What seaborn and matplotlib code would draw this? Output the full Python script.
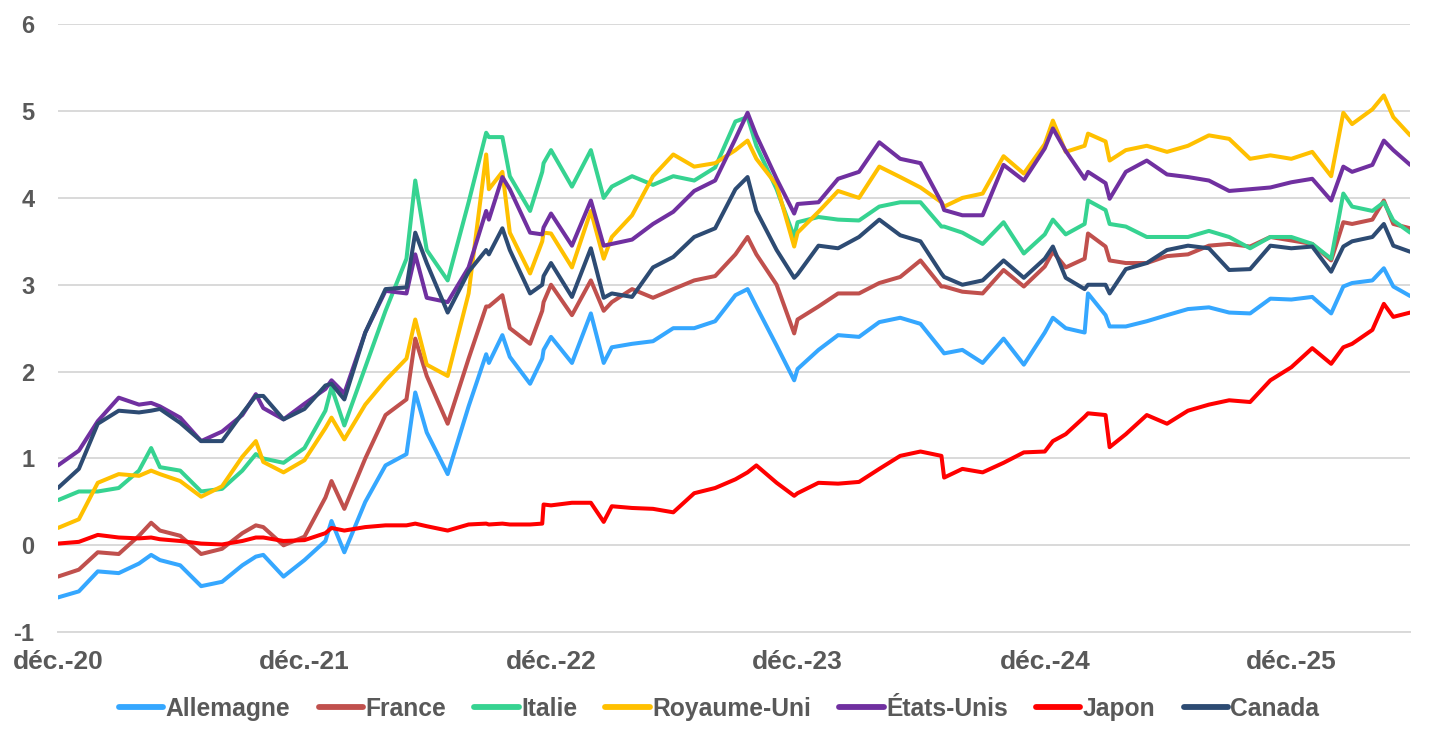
import matplotlib
matplotlib.use("Agg")
import matplotlib.pyplot as plt
import seaborn as sns
import pandas as pd

# 10-year government bond yields (%)
# one value per month start, Jan 2021 -> Jun 2026
months = pd.date_range("2021-01-01", "2026-06-01", freq="MS")

allemagne = [-0.60, -0.53, -0.30, -0.32, -0.21, -0.17, -0.23, -0.47, -0.42, -0.23, -0.11, -0.36,
             -0.17, 0.05, -0.08, 0.50, 0.92, 1.05, 1.30, 0.82, 1.60, 2.10, 2.17, 1.86,
             2.40, 2.10, 2.67, 2.28, 2.32, 2.35, 2.50, 2.50, 2.58, 2.88, 2.75, 2.30,
             2.03, 2.25, 2.42, 2.40, 2.57, 2.62, 2.55, 2.25, 2.25, 2.10, 2.38, 2.08,
             2.45, 2.50, 2.45, 2.65, 2.52, 2.58, 2.65, 2.72, 2.74, 2.68, 2.67, 2.84,
             2.83, 2.86, 2.67, 3.02, 3.05, 2.98]
france = [-0.36, -0.28, -0.08, -0.10, 0.11, 0.17, 0.11, -0.10, -0.04, 0.14, 0.21, 0.00,
          0.10, 0.55, 0.42, 1.00, 1.50, 1.68, 1.95, 1.40, 2.15, 2.75, 2.50, 2.32,
          3.00, 2.65, 3.05, 2.80, 2.95, 2.85, 2.95, 3.05, 3.10, 3.35, 3.35, 3.00,
          2.60, 2.75, 2.90, 2.90, 3.02, 3.09, 3.28, 2.98, 2.92, 2.90, 3.17, 2.98,
          3.21, 3.20, 3.30, 3.44, 3.25, 3.25, 3.33, 3.35, 3.45, 3.47, 3.44, 3.55,
          3.51, 3.47, 3.28, 3.70, 3.75, 3.70]
italie = [0.52, 0.62, 0.62, 0.66, 0.86, 0.90, 0.86, 0.62, 0.65, 0.86, 1.00, 0.95,
          1.12, 1.55, 1.38, 2.05, 2.70, 3.30, 3.40, 3.05, 3.95, 4.70, 4.25, 3.85,
          4.55, 4.13, 4.55, 4.13, 4.25, 4.15, 4.25, 4.20, 4.35, 4.88, 4.60, 4.10,
          3.72, 3.78, 3.75, 3.74, 3.90, 3.95, 3.95, 3.67, 3.60, 3.47, 3.72, 3.36,
          3.58, 3.58, 3.70, 3.86, 3.67, 3.55, 3.55, 3.55, 3.62, 3.55, 3.42, 3.55,
          3.55, 3.47, 3.30, 3.90, 3.85, 3.74]
royaume_uni = [0.20, 0.30, 0.72, 0.82, 0.80, 0.82, 0.74, 0.56, 0.68, 1.02, 0.96, 0.84,
               0.98, 1.35, 1.22, 1.62, 1.90, 2.15, 2.08, 1.95, 2.90, 4.10, 3.60, 3.13,
               3.59, 3.20, 3.85, 3.55, 3.80, 4.25, 4.50, 4.36, 4.40, 4.55, 4.45, 4.15,
               3.60, 3.84, 4.08, 4.00, 4.36, 4.24, 4.12, 3.95, 4.00, 4.05, 4.48, 4.28,
               4.62, 4.53, 4.60, 4.65, 4.55, 4.60, 4.53, 4.60, 4.72, 4.68, 4.45, 4.49,
               4.45, 4.53, 4.25, 4.85, 5.02, 4.93]
etats_unis = [0.92, 1.09, 1.43, 1.70, 1.62, 1.60, 1.47, 1.20, 1.31, 1.50, 1.58, 1.45,
              1.63, 1.80, 1.75, 2.45, 2.93, 2.90, 2.85, 2.80, 3.20, 3.75, 4.10, 3.60,
              3.82, 3.45, 3.97, 3.47, 3.52, 3.70, 3.84, 4.08, 4.20, 4.68, 4.72, 4.22,
              3.93, 3.95, 4.22, 4.30, 4.64, 4.45, 4.40, 3.95, 3.80, 3.80, 4.38, 4.20,
              4.57, 4.54, 4.22, 4.17, 4.30, 4.43, 4.27, 4.24, 4.20, 4.08, 4.10, 4.12,
              4.18, 4.22, 3.97, 4.30, 4.38, 4.55]
japon = [0.02, 0.04, 0.12, 0.09, 0.08, 0.07, 0.05, 0.02, 0.01, 0.05, 0.09, 0.05,
         0.06, 0.14, 0.17, 0.21, 0.23, 0.23, 0.22, 0.17, 0.24, 0.24, 0.24, 0.24,
         0.46, 0.49, 0.49, 0.45, 0.43, 0.42, 0.38, 0.60, 0.66, 0.76, 0.92, 0.72,
         0.60, 0.72, 0.71, 0.73, 0.88, 1.03, 1.08, 1.03, 0.88, 0.84, 0.95, 1.07,
         1.08, 1.28, 1.48, 1.50, 1.28, 1.50, 1.40, 1.55, 1.62, 1.67, 1.65, 1.90,
         2.05, 2.27, 2.09, 2.32, 2.48, 2.63]
canada = [0.66, 0.88, 1.40, 1.55, 1.53, 1.57, 1.41, 1.20, 1.20, 1.52, 1.72, 1.45,
          1.57, 1.84, 1.68, 2.45, 2.95, 2.97, 3.25, 2.68, 3.15, 3.35, 3.40, 2.90,
          3.25, 2.86, 3.42, 2.90, 2.86, 3.20, 3.32, 3.55, 3.65, 4.10, 3.85, 3.40,
          3.12, 3.45, 3.42, 3.55, 3.75, 3.57, 3.50, 3.13, 3.00, 3.05, 3.28, 3.08,
          3.30, 3.08, 2.95, 3.00, 3.18, 3.25, 3.40, 3.45, 3.42, 3.17, 3.18, 3.45,
          3.42, 3.44, 3.15, 3.50, 3.55, 3.45]

# extra points at the main spikes / dips, plus the last observation
event_dates = ["2021-05-19", "2021-10-21", "2022-02-10", "2022-06-14", "2022-09-27", "2022-10-21",
               "2022-12-19", "2022-12-21", "2023-03-20", "2023-10-19", "2023-12-27", "2024-08-05",
               "2025-01-13", "2025-03-06", "2025-04-07", "2026-03-19", "2026-05-18", "2026-06-26"]
allemagne_ev = [-0.11, -0.13, 0.28, 1.76, 2.20, 2.42, 2.15, 2.25, 2.10, 2.95, 1.90, 2.21,
                2.62, 2.90, 2.52, 2.98, 3.19, 2.87]
france_ev = [0.26, 0.23, 0.74, 2.38, 2.75, 2.88, 2.70, 2.80, 2.70, 3.55, 2.44, 2.98,
             3.38, 3.59, 3.28, 3.72, 3.97, 3.65]
italie_ev = [1.12, 1.05, 1.82, 4.20, 4.75, 4.70, 4.30, 4.40, 4.00, 4.93, 3.55, 3.67,
             3.75, 3.97, 3.70, 4.05, 3.95, 3.60]
royaume_uni_ev = [0.86, 1.20, 1.47, 2.60, 4.50, 4.30, 3.50, 3.60, 3.30, 4.66, 3.44, 3.90,
                  4.89, 4.74, 4.43, 4.98, 5.18, 4.72]
etats_unis_ev = [1.64, 1.74, 1.90, 3.35, 3.85, 4.24, 3.58, 3.66, 3.45, 4.98, 3.82, 3.86,
                 4.80, 4.30, 3.99, 4.36, 4.66, 4.38]
japon_ev = [0.09, 0.09, 0.20, 0.25, 0.25, 0.25, 0.25, 0.47, 0.27, 0.84, 0.57, 0.78,
            1.20, 1.52, 1.13, 2.28, 2.78, 2.68]
canada_ev = [1.55, 1.72, 1.86, 3.60, 3.40, 3.65, 3.00, 3.10, 2.85, 4.24, 3.08, 3.09,
             3.44, 3.00, 2.90, 3.44, 3.70, 3.38]

countries = ["Allemagne", "France", "Italie", "Royaume-Uni", "États-Unis", "Japon", "Canada"]
colors = ["#35A7FF", "#C0504D", "#36D391", "#FFC000", "#7030A0", "#FF0000", "#2D4B73"]
year_ticks = ["2021-01-01", "2022-01-01", "2023-01-01", "2024-01-01", "2025-01-01", "2026-01-01"]
year_labels = ["déc.-20", "déc.-21", "déc.-22", "déc.-23", "déc.-24", "déc.-25"]

monthly = [allemagne, france, italie, royaume_uni, etats_unis, japon, canada]
events = [allemagne_ev, france_ev, italie_ev, royaume_uni_ev, etats_unis_ev, japon_ev, canada_ev]

# long-form table
frames = []
all_dates = list(months) + list(pd.to_datetime(event_dates))
for name, vals, ev in zip(countries, monthly, events):
    frames.append(pd.DataFrame({"date": all_dates, "taux": vals + ev, "pays": name}))
df = pd.concat(frames).sort_values(["pays", "date"]).reset_index(drop=True)

sns.set_style("white")
plt.rcParams["font.family"] = ["Liberation Sans", "DejaVu Sans"]
plt.rcParams["font.weight"] = "bold"
plt.rcParams["axes.unicode_minus"] = False

grey_text = "#595959"
grid_col = "#D9D9D9"

fig = plt.figure(figsize=(14.34, 7.42), dpi=100)
ax = fig.add_axes([0.0404, 0.148, 0.943, 0.8194])

sns.lineplot(data=df, x="date", y="taux", hue="pays", hue_order=countries,
             palette=colors, linewidth=2.9, estimator=None, sort=True, ax=ax)
for ln in ax.get_lines():
    ln.set_solid_joinstyle("round")
    ln.set_solid_capstyle("round")

ax.set_ylim(-1, 6)
ax.set_yticks(range(-1, 7))
ax.set_yticklabels([str(v) for v in range(-1, 7)])
ax.set_xlim(pd.Timestamp("2021-01-01"), pd.Timestamp(event_dates[-1]))
ax.set_xticks(pd.to_datetime(year_ticks))
ax.set_xticklabels(year_labels)
ax.set_xlabel("")
ax.set_ylabel("")

ax.yaxis.grid(True, color=grid_col, linewidth=1.4)
ax.xaxis.grid(False)
ax.set_axisbelow(True)
for s in ["top", "right", "left"]:
    ax.spines[s].set_visible(False)
ax.spines["bottom"].set_color(grid_col)
ax.spines["bottom"].set_linewidth(1.4)

ax.tick_params(axis="x", length=7, width=1.4, color=grid_col, pad=6,
               labelsize=19, labelcolor=grey_text)
ax.tick_params(axis="y", length=0, pad=17, labelsize=17, labelcolor=grey_text)
for lab in ax.get_xticklabels() + ax.get_yticklabels():
    lab.set_fontweight("bold")

handles, labels = ax.get_legend_handles_labels()
ax.get_legend().remove()
leg = fig.legend(handles, labels, loc="center", bbox_to_anchor=(0.5015, 0.045),
                 ncol=7, frameon=False, handlelength=1.8, handletextpad=0.1,
                 columnspacing=1.15, prop={"size": 17.7, "weight": "bold"})
for h in leg.legend_handles:
    h.set_linewidth(4.2)
    h.set_solid_capstyle("round")
for t in leg.get_texts():
    t.set_color(grey_text)

fig.savefig("out.png", dpi=100)
